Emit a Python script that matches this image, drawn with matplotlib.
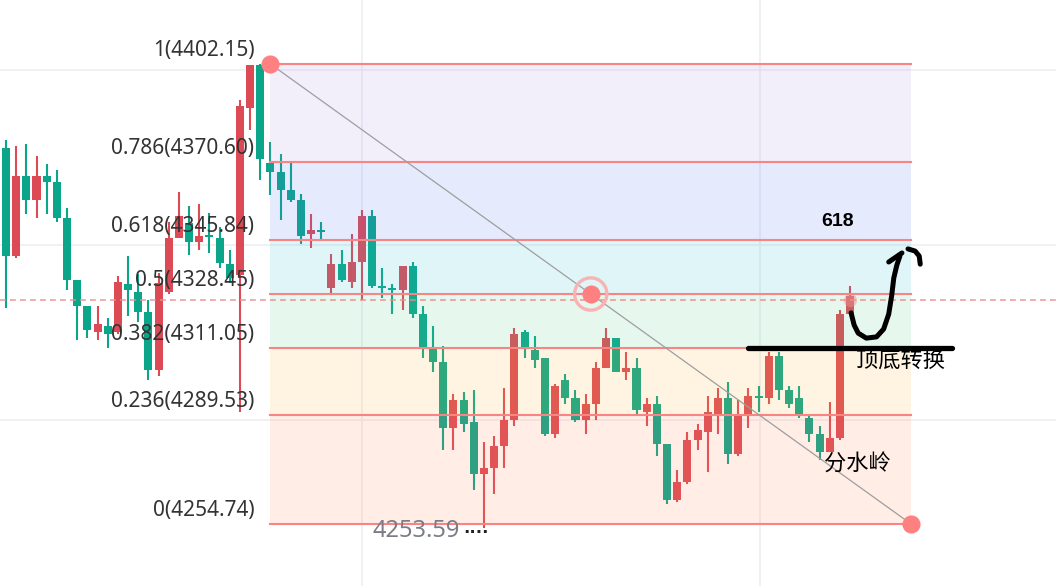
import matplotlib.pyplot as plt
import numpy as np

# candle data (red = close above open)
opens = [4375.2, 4340.6, 4366.3, 4358.6, 4366.3, 4364.3, 4352.8, 4332.9, 4324.6, 4316.3,
         4318.2, 4316.3, 4331.7, 4329.1, 4322.7, 4304.1, 4329.1, 4346.4, 4351.2, 4345.1,
         4347.4, 4346.4, 4338.1, 4334.5, 4388.0, 4401.8, 4370.4, 4367.5, 4361.8, 4358.6,
         4347.7, 4349.0, 4330.4, 4338.1, 4332.3, 4338.7, 4353.4, 4331.0, 4330.4, 4329.7,
         4337.4, 4322.0, 4310.9, 4306.7, 4285.5, 4294.5, 4287.4, 4270.8, 4272.7, 4279.7,
         4288.1, 4316.3, 4310.5, 4307.9, 4283.6, 4300.9, 4295.1, 4288.1, 4293.2, 4304.7,
         4314.3, 4303.5, 4304.7, 4290.6, 4293.2, 4280.4, 4262.4, 4268.2, 4281.7, 4284.2,
         4290.0, 4295.1, 4277.2, 4289.4, 4295.7, 4295.1, 4308.6, 4297.7, 4295.1, 4288.7,
         4283.6, 4277.8, 4282.3, 4322.0]
highs = [4377.8, 4375.9, 4376.5, 4372.7, 4370.1, 4368.2, 4356.0, 4332.9, 4324.6, 4324.6,
         4320.8, 4334.2, 4340.6, 4334.9, 4326.5, 4335.2, 4351.5, 4361.1, 4356.6, 4357.3,
         4354.4, 4349.9, 4342.5, 4390.6, 4401.5, 4402.15, 4377.2, 4373.3, 4370.4, 4360.5,
         4354.1, 4351.5, 4341.3, 4342.5, 4347.7, 4355.4, 4355.4, 4336.8, 4331.7, 4337.4,
         4338.7, 4324.6, 4318.2, 4311.8, 4296.4, 4297.0, 4297.7, 4281.0, 4282.9, 4298.3,
         4317.6, 4316.9, 4315.0, 4307.9, 4299.6, 4302.8, 4297.7, 4296.4, 4306.7, 4317.6,
         4314.3, 4309.9, 4307.9, 4295.1, 4295.7, 4280.4, 4272.1, 4284.2, 4286.8, 4295.7,
         4298.3, 4300.2, 4294.5, 4298.3, 4298.9, 4309.9, 4309.9, 4298.9, 4298.9, 4289.4,
         4286.1, 4293.8, 4323.3, 4331.0]
lows = [4324.0, 4340.0, 4354.1, 4352.8, 4354.1, 4351.5, 4329.7, 4313.7, 4314.3, 4313.7,
        4311.1, 4315.6, 4321.4, 4319.5, 4300.9, 4302.2, 4328.4, 4346.4, 4340.9, 4342.5,
        4341.6, 4336.8, 4332.0, 4290.6, 4381.0, 4365.0, 4360.2, 4352.2, 4357.9, 4344.5,
        4343.2, 4345.8, 4328.4, 4332.3, 4330.4, 4326.5, 4330.4, 4327.2, 4322.0, 4323.3,
        4320.8, 4307.9, 4303.5, 4278.5, 4278.5, 4284.2, 4265.6, 4253.59, 4264.4, 4272.7,
        4286.1, 4307.9, 4304.7, 4282.9, 4282.3, 4293.2, 4287.4, 4283.6, 4288.1, 4304.7,
        4303.5, 4300.9, 4289.4, 4286.1, 4276.5, 4261.1, 4261.8, 4267.6, 4278.5, 4271.4,
        4283.6, 4274.0, 4276.5, 4285.5, 4290.6, 4293.2, 4294.5, 4291.9, 4288.7, 4281.0,
        4275.2, 4277.8, 4281.7, 4322.0]
closes = [4340.6, 4366.3, 4358.6, 4366.3, 4364.3, 4352.8, 4332.9, 4324.6, 4316.9, 4318.8,
          4315.6, 4332.3, 4329.7, 4322.7, 4304.1, 4332.0, 4346.4, 4353.4, 4345.1, 4347.0,
          4346.7, 4338.4, 4333.6, 4388.7, 4401.8, 4371.7, 4367.5, 4361.8, 4358.6, 4347.0,
          4349.0, 4348.3, 4338.1, 4332.9, 4338.7, 4353.4, 4331.0, 4330.4, 4329.7, 4337.4,
          4322.0, 4311.1, 4306.7, 4285.5, 4294.5, 4286.8, 4270.8, 4272.7, 4279.7, 4288.1,
          4315.6, 4311.1, 4307.3, 4283.6, 4298.9, 4295.1, 4288.1, 4293.2, 4304.7, 4314.3,
          4303.5, 4304.7, 4291.3, 4293.2, 4280.4, 4262.4, 4268.2, 4281.7, 4284.9, 4290.6,
          4295.1, 4277.2, 4289.4, 4295.7, 4295.1, 4308.6, 4297.7, 4293.2, 4289.4, 4283.6,
          4277.8, 4282.3, 4322.0, 4327.8]

fib_high = 4402.15
fib_low = 4254.74
fib_start, fib_end = 26, 89
fib_ratios = [1, 0.786, 0.618, 0.5, 0.382, 0.236, 0]
fib_fills = ['#A88EDE', '#5273F2', '#30BCD0', '#58CA8E', '#FFB63E', '#FF8759']
period_low = 4253.59
last_price = 4326.5

red = '#DC4A55'
green = '#0BA68A'

fig = plt.figure(figsize=(10.56, 5.86), dpi=100)
ax = fig.add_axes([0, 0, 1, 1])
ax.set_xlim(-0.59, 103.25)
ax.set_ylim(4234.87, 4422.66)
ax.axis('off')

# background grid
for gx in [35, 74.1]:
    ax.axvline(gx, color='#EFF0F4', lw=1.3, zorder=0)
for gy in [4400.2, 4344.1, 4288.1]:
    ax.axhline(gy, color='#EFF0F4', lw=1.3, zorder=0)

# candles
o = np.array(opens); h = np.array(highs); l = np.array(lows); c = np.array(closes)
idx = np.arange(len(o))
cols = np.where(c >= o, red, green)
ax.vlines(idx, l, h, colors=cols, lw=1.5, zorder=2)
body = np.maximum(np.abs(c - o), 0.6)
ax.bar(idx, body, bottom=np.minimum(o, c), width=0.79, color=cols, zorder=2)

# fibonacci retracement
levels = [fib_low + r * (fib_high - fib_low) for r in fib_ratios]
for k in range(len(levels) - 1):
    ax.fill_between([fib_start, fib_end], levels[k + 1], levels[k],
                    color=fib_fills[k], alpha=0.15, lw=0, zorder=3)
for r, lv in zip(fib_ratios, levels):
    ax.plot([fib_start, fib_end], [lv, lv], color='#F88484', lw=1.5, zorder=4)
    ax.annotate(f'{r:g}({lv + 1e-6:.2f})', (fib_start, lv), xytext=(-16, 13.5),
                textcoords='offset pixels', ha='right', va='center',
                fontsize=15, family='Noto Sans', color='#333333', zorder=8)

ax.axhline(last_price, color='#E88E8E', lw=1.2, ls=(0, (3.5, 2.5)), alpha=0.85, zorder=5)

ax.plot([fib_start, fib_end], [fib_high, fib_low], color='#9E9E9E', lw=0.9, zorder=5)
ax.scatter([fib_start, fib_end], [fib_high, fib_low], s=170, color='#FF8080', zorder=6, lw=0)
mid_x = (fib_start + fib_end) / 2
mid_y = (fib_high + fib_low) / 2
ax.scatter([mid_x], [mid_y], s=540, facecolor='none', edgecolor='#F9B3B3', lw=2.4, zorder=6)
ax.scatter([mid_x], [mid_y], s=170, color='#FF8080', lw=0, zorder=6)

# highlight on last candle
ax.scatter([idx[-1]], [last_price], s=90, color='#F09090', alpha=0.5, lw=0, zorder=6)

ax.text(36.0, 4252.6, f'{period_low:.2f}', fontsize=17, family='Noto Sans',
        color='#7A7D88', ha='left', va='center', zorder=8)
ax.text(45.0, 4253.6, '....', fontsize=12, fontweight='bold', color='#222222',
        ha='left', va='center', zorder=8)

# hand-drawn annotations
ax.plot([73, 93], [levels[4], levels[4]], color='black', lw=3.8,
        solid_capstyle='round', zorder=7)
curve_x = [83.1, 83.4, 83.8, 84.6, 85.6, 86.3, 86.8, 87.1, 87.3, 87.6, 87.9]
curve_y = [4322.4, 4318.5, 4315.9, 4314.3, 4314.7, 4317.2, 4322.0, 4328.1, 4333.6, 4337.7, 4340.6]
ax.plot(curve_x, curve_y, color='black', lw=3.6, solid_capstyle='round',
        solid_joinstyle='round', zorder=7)
ax.plot([86.8, 88.1], [4338.7, 4341.6], color='black', lw=3.6,
        solid_capstyle='round', zorder=7)
ax.plot([88.7, 89.4, 89.8, 89.9], [4342.9, 4342.2, 4340.6, 4338.0], color='black',
        lw=3.6, solid_capstyle='round', solid_joinstyle='round', zorder=7)

ax.text(81.8, 4351.8, '618', fontsize=14, fontweight='bold', family='Liberation Sans',
        ha='center', va='center', zorder=8)
ax.text(88.0, 4307.0, '顶底转换', fontsize=16, family='Noto Sans CJK SC',
        ha='center', va='center', zorder=8)
ax.text(83.7, 4274.0, '分水岭', fontsize=16, family='Noto Sans CJK SC',
        ha='center', va='center', zorder=8)

fig.savefig('out.png', dpi=100)
